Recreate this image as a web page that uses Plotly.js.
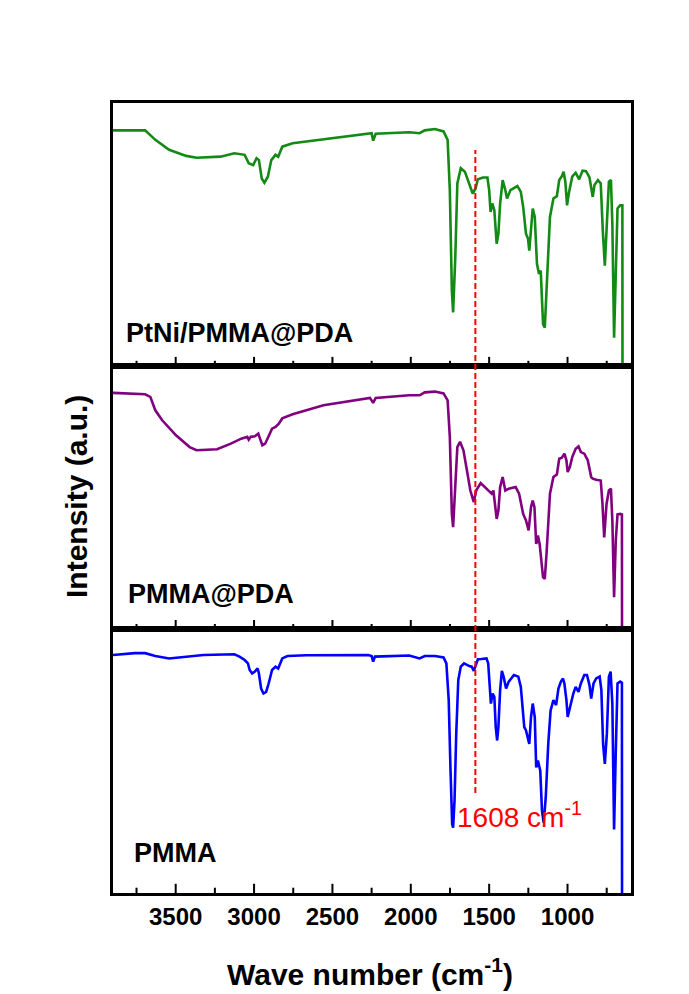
<!DOCTYPE html>
<html>
<head>
<meta charset="utf-8">
<script src="https://cdn.plot.ly/plotly-3.0.1.min.js"></script>
<style>html,body{margin:0;padding:0;background:#fff;}#chart{width:689px;height:994px;}</style>
</head>
<body>
<div id="chart"></div>
<script>
// Panel labels
const sampleNames = ["PtNi/PMMA@PDA", "PMMA@PDA", "PMMA"];
const markerWavenumber = 1588;
const markerLabel = "1608 cm<sup>-1</sup>";
const majorTicks = [3500, 3000, 2500, 2000, 1500, 1000];
const minorTicks = [3750, 3250, 2750, 2250, 1750, 1250, 750];

// PtNi/PMMA@PDA (top panel)
const wnGreen = [3900,3695,3630,3542,3433,3367,3214,3126,3060,3034,3006,2984,2969,2951,2934,2912,2890,2863,2846,2820,2754,2557,2294,2250,2240,2224,2010,1944,1911,1846,1791,1765,1751,1738,1730,1716,1703,1681,1655,1627,1605,1587,1572,1539,1511,1500,1491,1480,1467,1452,1441,1430,1414,1397,1386,1364,1320,1298,1283,1265,1252,1244,1233,1222,1209,1195,1182,1171,1156,1145,1134,1112,1090,1068,1053,1036,1025,1014,1003,992,970,948,926,904,882,860,839,828,806,788,775,762,749,736,723,714,703,692,681,664,650,649];
const yGreen = [0.896,0.896,0.860,0.822,0.799,0.792,0.796,0.809,0.803,0.771,0.764,0.790,0.783,0.713,0.697,0.720,0.783,0.803,0.796,0.834,0.847,0.862,0.882,0.885,0.857,0.883,0.889,0.885,0.896,0.901,0.892,0.860,0.669,0.287,0.204,0.414,0.694,0.752,0.739,0.688,0.656,0.675,0.710,0.717,0.717,0.669,0.586,0.618,0.592,0.465,0.503,0.618,0.707,0.669,0.637,0.669,0.684,0.662,0.605,0.503,0.484,0.439,0.516,0.599,0.567,0.389,0.350,0.363,0.159,0.146,0.287,0.567,0.637,0.646,0.707,0.722,0.739,0.701,0.611,0.656,0.720,0.735,0.710,0.743,0.741,0.717,0.643,0.688,0.707,0.694,0.516,0.382,0.541,0.701,0.707,0.541,0.108,0.414,0.599,0.611,0.611,-0.2];

// PMMA@PDA (middle panel)
const wnPurple = [3900,3695,3662,3630,3586,3498,3411,3367,3236,3148,3082,3043,3034,3021,2995,2973,2962,2947,2929,2907,2885,2863,2842,2820,2754,2557,2338,2261,2240,2224,2010,1944,1911,1846,1791,1765,1751,1738,1730,1719,1703,1686,1664,1642,1620,1598,1583,1554,1528,1506,1495,1484,1473,1463,1452,1441,1430,1414,1397,1375,1331,1309,1283,1265,1248,1233,1222,1211,1200,1189,1178,1156,1145,1134,1112,1090,1068,1053,1036,1020,1007,999,985,970,948,930,915,893,871,849,839,817,788,777,766,751,736,723,714,703,692,681,664,653,652];
const yPurple = [0.898,0.893,0.883,0.832,0.794,0.737,0.692,0.680,0.684,0.705,0.724,0.731,0.720,0.731,0.733,0.743,0.724,0.699,0.705,0.737,0.762,0.769,0.781,0.801,0.817,0.851,0.873,0.879,0.860,0.879,0.889,0.889,0.900,0.903,0.896,0.870,0.731,0.438,0.388,0.515,0.692,0.712,0.680,0.604,0.527,0.483,0.527,0.555,0.540,0.527,0.521,0.515,0.527,0.483,0.419,0.451,0.540,0.578,0.527,0.534,0.540,0.515,0.438,0.413,0.375,0.464,0.489,0.464,0.324,0.356,0.324,0.197,0.191,0.286,0.515,0.578,0.588,0.648,0.652,0.667,0.642,0.597,0.616,0.654,0.686,0.695,0.673,0.667,0.642,0.578,0.572,0.568,0.565,0.476,0.349,0.476,0.527,0.534,0.413,0.121,0.337,0.436,0.438,0.436,-0.2];

// PMMA (bottom panel)
const wnBlue = [3900,3761,3695,3630,3542,3433,3323,3126,3093,3060,3039,3028,3012,2995,2977,2969,2955,2940,2923,2907,2885,2863,2846,2820,2787,2666,2272,2250,2240,2229,2010,1944,1911,1846,1791,1773,1758,1747,1736,1730,1721,1710,1697,1681,1660,1627,1611,1598,1587,1572,1550,1517,1506,1495,1489,1478,1467,1458,1449,1441,1430,1419,1408,1392,1375,1342,1314,1298,1276,1265,1252,1244,1233,1222,1209,1200,1189,1174,1163,1152,1139,1123,1108,1090,1073,1058,1042,1029,1020,1007,999,985,963,948,930,915,893,876,860,849,834,817,795,784,773,762,749,736,725,714,703,692,681,664,653,652];
const yBlue = [0.902,0.909,0.909,0.898,0.889,0.896,0.902,0.905,0.896,0.883,0.870,0.845,0.832,0.839,0.851,0.832,0.775,0.756,0.762,0.794,0.845,0.858,0.851,0.889,0.898,0.901,0.902,0.898,0.877,0.896,0.900,0.889,0.898,0.898,0.893,0.870,0.731,0.476,0.260,0.248,0.349,0.604,0.807,0.858,0.870,0.860,0.858,0.842,0.860,0.886,0.887,0.889,0.870,0.756,0.718,0.756,0.743,0.629,0.578,0.629,0.769,0.842,0.820,0.775,0.801,0.826,0.820,0.781,0.629,0.616,0.584,0.565,0.667,0.718,0.667,0.476,0.502,0.464,0.311,0.267,0.362,0.565,0.692,0.731,0.712,0.775,0.801,0.813,0.794,0.731,0.667,0.705,0.756,0.781,0.762,0.794,0.826,0.826,0.788,0.737,0.794,0.813,0.820,0.769,0.565,0.489,0.604,0.820,0.839,0.718,0.241,0.540,0.794,0.801,0.797,-0.2];

const FONT = "Arial, Liberation Sans, Helvetica, sans-serif";
const lw = 2.6;
const majorLen = 0.035, minorLen = 0.02;

const traces = [
  {x: wnGreen, y: yGreen, xaxis: 'x', yaxis: 'y', mode: 'lines', line: {color: '#138a13', width: lw}, showlegend: false, hoverinfo: 'skip'},
  {x: wnPurple, y: yPurple, xaxis: 'x2', yaxis: 'y2', mode: 'lines', line: {color: '#800080', width: lw}, showlegend: false, hoverinfo: 'skip'},
  {x: wnBlue, y: yBlue, xaxis: 'x3', yaxis: 'y3', mode: 'lines', line: {color: '#0000ff', width: lw}, showlegend: false, hoverinfo: 'skip'}
];

// Tick marks as line segments on each panel's bottom edge, placed through the x scale
[['x', 'y'], ['x2', 'y2'], ['x3', 'y3']].forEach(([xa, ya]) => {
  const tx = [], ty = [];
  majorTicks.forEach(v => { tx.push(v, v, null); ty.push(0, majorLen, null); });
  minorTicks.forEach(v => { tx.push(v, v, null); ty.push(0, minorLen, null); });
  traces.push({x: tx, y: ty, xaxis: xa, yaxis: ya, mode: 'lines', line: {color: '#000', width: 2}, showlegend: false, hoverinfo: 'skip', connectgaps: false});
});

function xax(anchor, labels) {
  return {
    anchor: anchor, range: [3900, 595],
    tickmode: 'array', tickvals: majorTicks, ticktext: majorTicks.map(String),
    showticklabels: labels, ticks: '',
    showline: true, linewidth: 2.5, linecolor: '#000', mirror: true,
    showgrid: false, zeroline: false,
    tickfont: {family: FONT, size: 24, color: '#000', weight: 'bold'}
  };
}
function yax(anchor, domain) {
  return {
    anchor: anchor, domain: domain, range: [0, 1],
    showticklabels: false, ticks: '', showline: true, linewidth: 2.5, linecolor: '#000', mirror: true,
    showgrid: false, zeroline: false
  };
}

const W = 518, H = 790, L = 113, T = 103;
const px = v => (v - L) / W;
const py = v => (T + H - v) / H;

const layout = {
  width: 689, height: 994,
  margin: {l: 113, r: 58, t: 103, b: 101},
  showlegend: false,
  xaxis: xax('y', false),
  xaxis2: xax('y2', false),
  xaxis3: xax('y3', true),
  yaxis: yax('x', [0.667, 1]),
  yaxis2: yax('x2', [0.334, 0.667]),
  yaxis3: yax('x3', [0, 0.334]),
  shapes: [
    {type: 'line', xref: 'x', yref: 'paper', x0: markerWavenumber, x1: markerWavenumber, y0: py(793), y1: py(150),
     line: {color: '#ff0000', width: 2, dash: '6px,3px'}}
  ],
  annotations: [
    {text: sampleNames[0], xref: 'paper', yref: 'paper', x: px(124), y: py(333), xanchor: 'left', yanchor: 'middle', showarrow: false,
     font: {family: FONT, size: 27, color: '#000', weight: 'bold'}},
    {text: sampleNames[1], xref: 'paper', yref: 'paper', x: px(126), y: py(594), xanchor: 'left', yanchor: 'middle', showarrow: false,
     font: {family: FONT, size: 27, color: '#000', weight: 'bold'}},
    {text: sampleNames[2], xref: 'paper', yref: 'paper', x: px(132), y: py(853), xanchor: 'left', yanchor: 'middle', showarrow: false,
     font: {family: FONT, size: 27, color: '#000', weight: 'bold'}},
    {text: markerLabel, xref: 'paper', yref: 'paper', x: px(455), y: py(815), xanchor: 'left', yanchor: 'middle', showarrow: false,
     font: {family: FONT, size: 28, color: '#ff0000'}},
    {text: 'Intensity (a.u.)', xref: 'paper', yref: 'paper', x: px(76), y: py(497), xanchor: 'center', yanchor: 'middle', textangle: -90, showarrow: false,
     font: {family: FONT, size: 30, color: '#000', weight: 'bold'}},
    {text: 'Wave number (cm<sup>-1</sup>)', xref: 'paper', yref: 'paper', x: px(370), y: py(972), xanchor: 'center', yanchor: 'middle', showarrow: false,
     font: {family: FONT, size: 30, color: '#000', weight: 'bold'}}
  ]
};

Plotly.newPlot('chart', traces, layout, {displayModeBar: false});
</script>
</body>
</html>
